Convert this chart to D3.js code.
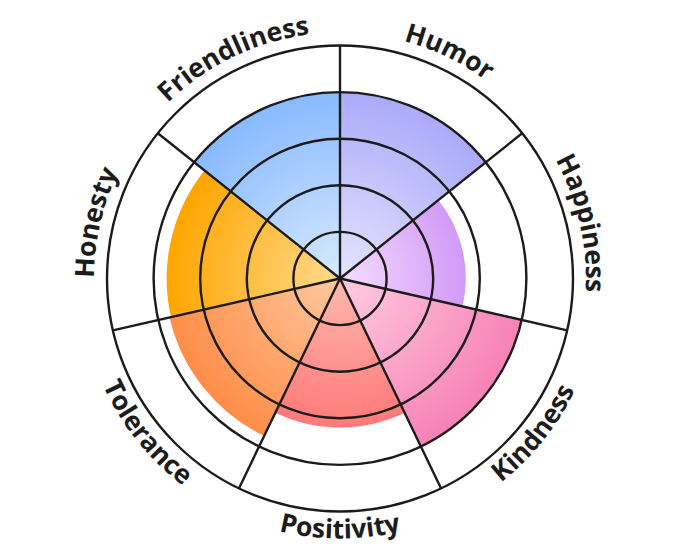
<!DOCTYPE html>
<html>
<head>
<meta charset="utf-8">
<script src="https://cdn.jsdelivr.net/npm/d3@7"></script>
<style>
  body { margin: 0; background: #fff; }
  text { font-family: 'Open Sans', sans-serif; font-weight: 700; fill: #1c1c1c; }
</style>
</head>
<body>
<script>
// clockwise from 12 o'clock
const categories = ['Humor', 'Happiness', 'Kindness', 'Positivity', 'Tolerance', 'Honesty', 'Friendliness']
const values = [4, 2.7, 4, 3.2, 3.75, 3.72, 4]
const innerColors = ['#e6e4ff', '#f5ddff', '#ffcce2', '#ffb8ae', '#ffc8a0', '#ffdb8e', '#d8eaff']
const outerColors = ['#aaaafa', '#d29af6', '#f782b6', '#ff7a7a', '#ff8d48', '#ffa500', '#88b9ff']
const ringTicks = [1, 2, 3, 4, 5]

const width = 680, height = 557
const cx = 340, cy = 278.5

const svg = d3.select('body').append('svg')
  .attr('width', width)
  .attr('height', height)

const r = d3.scaleLinear().domain([0, 5]).range([0, 233])
const angle = d3.scaleBand().domain(categories).range([0, 2 * Math.PI])

const defs = svg.append('defs')
const g = svg.append('g').attr('transform', `translate(${cx},${cy})`)

// one radial gradient per slice, light in the middle
categories.forEach((c, i) => {
  const grad = defs.append('radialGradient')
    .attr('id', 'grad' + i)
    .attr('gradientUnits', 'userSpaceOnUse')
    .attr('cx', 0).attr('cy', 0)
    .attr('r', r(values[i]))
  grad.append('stop').attr('offset', '0%').attr('stop-color', innerColors[i])
  grad.append('stop').attr('offset', '100%').attr('stop-color', outerColors[i])
})

const arc = d3.arc()
  .innerRadius(0)
  .outerRadius(d => r(d.value))
  .startAngle(d => angle(d.cat))
  .endAngle(d => angle(d.cat) + angle.bandwidth())

const slices = categories.map((c, i) => ({cat: c, value: values[i], i: i}))

g.append('g').selectAll('path')
  .data(slices)
  .join('path')
    .attr('d', arc)
    .attr('fill', d => `url(#grad${d.i})`)

// grid
const grid = g.append('g')
  .attr('fill', 'none')
  .attr('stroke', '#1b1b1b')
  .attr('stroke-width', 2.4)
grid.selectAll('circle')
  .data(ringTicks)
  .join('circle')
    .attr('r', d => r(d))
grid.selectAll('line')
  .data(categories)
  .join('line')
    .attr('x1', 0).attr('y1', 0)
    .attr('x2', d => r(5) * Math.sin(angle(d)))
    .attr('y2', d => -r(5) * Math.cos(angle(d)))

// curved labels
function pt(a, R){ return [R * Math.sin(a), -R * Math.cos(a)] }
const half = 1.0
slices.forEach(d => {
  const mid = angle(d.cat) + angle.bandwidth() / 2
  const bottom = mid > Math.PI / 2 + 0.3 && mid < 3 * Math.PI / 2 - 0.3
  const R = bottom ? 260 : 246
  let p0, p1, sweep
  if(bottom){
    p0 = pt(mid + half, R); p1 = pt(mid - half, R); sweep = 0
  } else {
    p0 = pt(mid - half, R); p1 = pt(mid + half, R); sweep = 1
  }
  defs.append('path')
    .attr('id', 'lab' + d.i)
    .attr('d', `M${p0[0]},${p0[1]} A${R},${R} 0 0 ${sweep} ${p1[0]},${p1[1]}`)
  g.append('text')
    .attr('font-size', 26.5)
    .append('textPath')
      .attr('href', '#lab' + d.i)
      .attr('startOffset', '50%')
      .attr('text-anchor', 'middle')
      .text(d.cat)
})
</script>
</body>
</html>
